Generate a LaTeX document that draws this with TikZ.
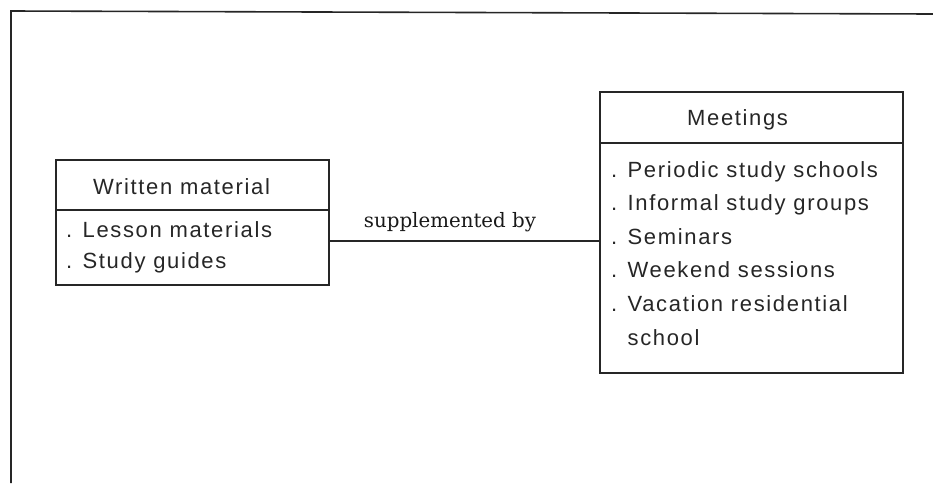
\documentclass[tikz,border=0pt]{standalone}
\usepackage{fontspec}
\usetikzlibrary{calc}
\newfontfamily\boxfont[LetterSpace=7.5]{Liberation Sans}
\newfontfamily\linkfont{DejaVu Serif}
\begin{document}
\begin{tikzpicture}[x=1pt,y=-1pt,
  framestroke/.style={line width=1.6pt, draw=black!85},
  boxpart/.style={draw=black!85, line width=1.5pt, inner sep=0pt, outer sep=0pt,
                  anchor=north west},
  entry/.style={anchor=base west, inner sep=0pt, text=black!85,
                font=\boxfont\fontsize{22}{26}\selectfont},
  linklabel/.style={anchor=base, inner sep=0pt, text=black!90,
                font=\linkfont\fontsize{19.8}{24}\selectfont},
  connector/.style={draw=black!85, line width=1.5pt}]
  \useasboundingbox (0,0) rectangle (933,483);

  % outer frame: top and left edges only
  \coordinate (fnw) at (11,11);
  \coordinate (fne) at (933,14);
  \coordinate (fsw) at (11,483);
  \draw[framestroke] (fne) -- (fnw) -- (fsw);

  % Written material box
  \node[boxpart, minimum width=273pt, minimum height=50pt] (wmhead) at (56,160) {};
  \node[boxpart, minimum width=273pt, minimum height=75pt] (wmbody) at (wmhead.south west) {};
  \node[entry] (wmtitle) at (93,194) {Written material};
  \node[entry] (wm1) at (66,237) {. Lesson materials};
  \node[entry] (wm2) at (66,268) {. Study guides};

  % Meetings box
  \node[boxpart, minimum width=303pt, minimum height=51pt] (mhead) at (600,92) {};
  \node[boxpart, minimum width=303pt, minimum height=230pt] (mbody) at (mhead.south west) {};
  \node[entry] (mtitle) at (687,125) {Meetings};
  \node[entry] (m1) at (611,177.0) {. Periodic study schools};
  \node[entry] (m2) at (611,210.6) {. Informal study groups};
  \node[entry] (m3) at (611,244.2) {. Seminars};
  \node[entry] (m4) at (611,277.8) {. Weekend sessions};
  \node[entry] (m5) at (611,311.4) {. Vacation residential};
  \node[entry] (m6) at (611,345.0) {\phantom{. }school};

  % link between the two boxes
  \coordinate (linkstart) at ($(wmbody.north east)!0.413!(wmbody.south east)$);
  \draw[connector] (linkstart) -- (linkstart -| mbody.west);
  \node[linklabel] (linktext) at (450,227) {supplemented by};
\end{tikzpicture}
\end{document}
